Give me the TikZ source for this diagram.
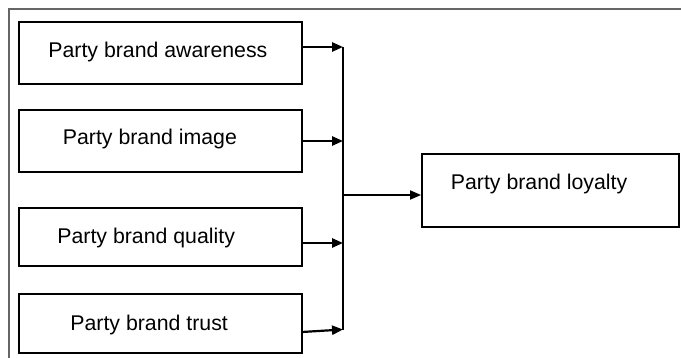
\documentclass[tikz,border=0pt]{standalone}
\usepackage{fontspec}
\setmainfont{Liberation Sans}
\usetikzlibrary{arrows.meta}
\begin{document}
\begin{tikzpicture}[x=0.5pt,y=-0.5pt,
  box/.style={draw=black,line width=1.15pt,inner sep=0pt,anchor=north west},
  txt/.style={anchor=base west,inner sep=0pt,font=\fontsize{10.65}{12}\selectfont},
  conn/.style={line width=1.1pt,-{Triangle[length=5.5pt,width=4.6pt]}},
  bus/.style={line width=1.1pt},
  frame/.style={draw=black!60,line width=0.6pt}]
\useasboundingbox (0,0) rectangle (681,358);
\draw[frame] (9,358) -- (9,9) -- (681,9);
% boxes
\node[box,minimum width=283*0.5pt,minimum height=62*0.5pt] (aw) at (18,21) {};
\node[box,minimum width=283*0.5pt,minimum height=62*0.5pt] (im) at (18,109) {};
\node[box,minimum width=283*0.5pt,minimum height=58*0.5pt] (qu) at (18,207) {};
\node[box,minimum width=283*0.5pt,minimum height=59*0.5pt] (tr) at (18,293) {};
\node[box,minimum width=257*0.5pt,minimum height=73*0.5pt] (lo) at (421,153) {};
% texts
\node[txt] (awt) at (48,58) {Party brand awareness};
\node[txt] (imt) at (62.5,145) {Party brand image};
\node[txt] (qut) at (57,243) {Party brand quality};
\node[txt] (trt) at (70,330.5) {Party brand trust};
\node[txt] (lot) at (450.5,190) {Party brand loyalty};
% bus coordinates
\coordinate (b1) at (343,47);
\coordinate (b2) at (343,141);
\coordinate (b3) at (343,243);
\coordinate (b4) at (343,329.5);
\coordinate (bj) at (343,195);
\coordinate (t1) at (302,332);
\draw[bus] (b1) -- (b4);
\draw[conn] (aw.east |- b1) -- (b1);
\draw[conn] (im.east |- b2) -- (b2);
\draw[conn] (qu.east |- b3) -- (b3);
\draw[conn] (t1) -- (b4);
\draw[conn,line width=0.7pt] (bj) -- (lo.west |- bj);
\end{tikzpicture}
\end{document}
